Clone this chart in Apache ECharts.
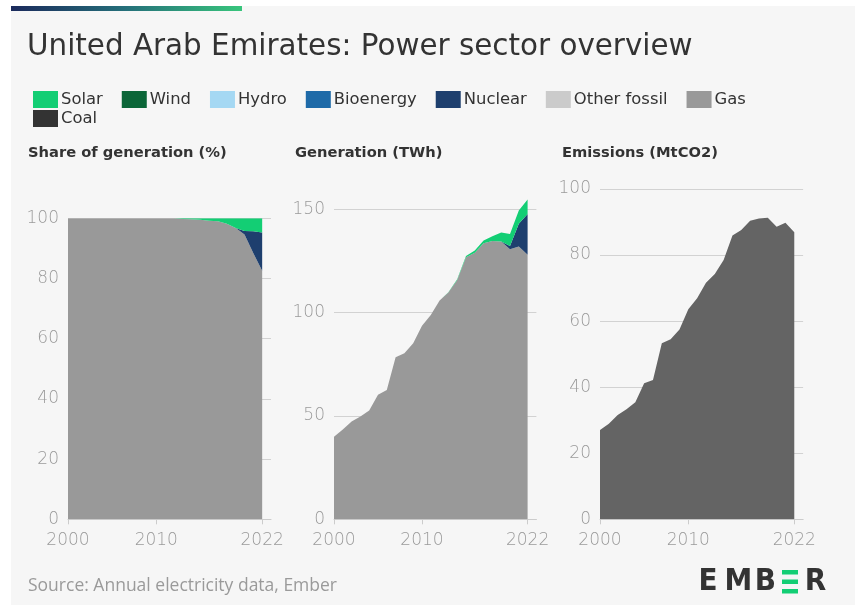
<!DOCTYPE html>
<html>
<head>
<meta charset="utf-8">
<script src="https://cdn.jsdelivr.net/npm/echarts@6/dist/echarts.min.js"></script>
<style>
  html, body { margin: 0; padding: 0; background: #fff; }
  #main { width: 855px; height: 605px; }
</style>
</head>
<body>
<div id="main"></div>
<script>
// years on the x axis (the axis runs on to 2023 so the gridlines overhang a little)
const years = ['2000', '2001', '2002', '2003', '2004', '2005', '2006', '2007', '2008', '2009', '2010', '2011',
  '2012', '2013', '2014', '2015', '2016', '2017', '2018', '2019', '2020', '2021', '2022'];
const axisYears = years.concat(['2023']);
const yearTicks = ['2000', '2010', '2022'];

// share of generation (%)
const shareGas = [100, 100, 100, 100, 100, 100, 100, 100, 100, 100, 100, 100,
  100, 99.8, 99.7, 99.5, 99.2, 99.0, 98.2, 96.8, 94.6, 88.4, 82.6];
const shareNuclear = [0, 0, 0, 0, 0, 0, 0, 0, 0, 0, 0, 0,
  0, 0, 0, 0, 0, 0, 0, 0, 1.2, 7.3, 12.7];
const shareSolar = [0, 0, 0, 0, 0, 0, 0, 0, 0, 0, 0, 0,
  0, 0.2, 0.3, 0.5, 0.8, 1.0, 1.8, 3.2, 4.2, 4.3, 4.7];

// generation (TWh)
const genGas = [40.0, 43.5, 47.3, 49.7, 52.6, 60.2, 62.6, 78.4, 80.3, 85.2, 93.6, 98.9,
  105.8, 109.7, 115.8, 126.8, 129.0, 133.5, 134.6, 134.4, 130.6, 132.0, 128.0];
const genNuclear = [0, 0, 0, 0, 0, 0, 0, 0, 0, 0, 0, 0,
  0, 0, 0, 0, 0, 0, 0, 0, 1.6, 11.0, 19.7];
const genSolar = [0, 0, 0, 0, 0, 0, 0, 0, 0, 0, 0, 0,
  0, 0.2, 0.3, 0.6, 1.0, 1.4, 2.4, 4.4, 5.8, 6.4, 7.0];

// emissions (MtCO2)
const emissions = [27.0, 28.9, 31.6, 33.3, 35.4, 41.2, 42.2, 53.3, 54.5, 57.5, 63.6, 66.9,
  71.6, 74.3, 78.5, 85.9, 87.6, 90.4, 91.1, 91.3, 88.6, 89.8, 86.9];

const sources = ['Solar', 'Wind', 'Hydro', 'Bioenergy', 'Nuclear', 'Other fossil', 'Gas', 'Coal'];
const colors = {
  'Solar': '#13ce74', 'Wind': '#0b6638', 'Hydro': '#a5d8f3', 'Bioenergy': '#1e6aa8',
  'Nuclear': '#1e3f6e', 'Other fossil': '#cbcbcb', 'Gas': '#999999', 'Coal': '#333333'
};

const font = '"DejaVu Sans", "Open Sans", sans-serif';
const narrow = '"Liberation Sans Narrow", "Open Sans", sans-serif';
const logoFont = '"DejaVu Sans Condensed", "DejaVu Sans", sans-serif';
const showYear = (i, v) => yearTicks.indexOf(v) >= 0;

function area(name, vals, idx, stack, color) {
  const c = color || colors[name];
  return {
    name: name,
    type: 'line',
    xAxisIndex: idx,
    yAxisIndex: idx,
    stack: stack,
    data: vals || [],
    symbol: 'none',
    lineStyle: { width: 0 },
    areaStyle: { color: c, opacity: 1 },
    itemStyle: { color: c },
    emphasis: { disabled: true },
    silent: true
  };
}

function xAx(idx) {
  return {
    gridIndex: idx,
    type: 'category',
    data: axisYears,
    boundaryGap: false,
    axisLine: { show: true, lineStyle: { color: '#cccccc' } },
    axisTick: { show: true, interval: showYear, length: 5, lineStyle: { color: '#cccccc' } },
    axisLabel: { interval: showYear, color: '#9a9a9a', fontSize: 17, fontWeight: 200, fontFamily: font, margin: 13 },
    splitLine: { show: false }
  };
}

function yAx(idx, max, interval) {
  const even = max % interval === 0;
  return {
    gridIndex: idx,
    type: 'value',
    min: 0,
    max: max,
    interval: interval,
    axisLine: { show: false },
    axisTick: { show: false },
    axisLabel: { color: '#9a9a9a', fontSize: 17, fontWeight: 200, fontFamily: font, margin: 9, showMaxLabel: even },
    splitLine: { show: true, showMaxLine: even, lineStyle: { color: '#d2d2d2' } }
  };
}

const series = [
  area('Gas', shareGas, 0, 'share'),
  area('Nuclear', shareNuclear, 0, 'share'),
  area('Solar', shareSolar, 0, 'share'),
  area('Gas', genGas, 1, 'gen'),
  area('Nuclear', genNuclear, 1, 'gen'),
  area('Solar', genSolar, 1, 'gen'),
  area('Wind', null, 1, 'gen'),
  area('Hydro', null, 1, 'gen'),
  area('Bioenergy', null, 1, 'gen'),
  area('Other fossil', null, 1, 'gen'),
  area('Coal', null, 1, 'gen'),
  area('Emissions', emissions, 2, null, '#646464')
];

const legendBase = {
  orient: 'horizontal',
  left: 28,
  itemWidth: 25,
  itemHeight: 17,
  itemGap: 19,
  icon: 'rect',
  selectedMode: false,
  textStyle: { fontSize: 16.4, color: '#333333', fontFamily: font, padding: [0, 0, 0, -2] }
};

const chart = echarts.init(document.getElementById('main'));
chart.setOption({
  backgroundColor: '#ffffff',
  animation: false,
  legend: [
    Object.assign({}, legendBase, { top: 86, data: sources.slice(0, 7) }),
    Object.assign({}, legendBase, { top: 105, data: ['Coal'] })
  ],
  grid: [
    { left: 68, top: 218.3, width: 203, height: 301 },
    { left: 334, top: 188.6, width: 202.4, height: 330.7 },
    { left: 600, top: 189, width: 203.1, height: 330.3 }
  ],
  xAxis: [xAx(0), xAx(1), xAx(2)],
  yAxis: [yAx(0, 100, 20), yAx(1, 160, 50), yAx(2, 100, 20)],
  series: series,
  graphic: [
    { type: 'rect', z: -10, shape: { x: 11, y: 6, width: 844, height: 599 }, style: { fill: '#f6f6f6' } },
    {
      type: 'rect', shape: { x: 11, y: 6, width: 231, height: 5 },
      style: {
        fill: new echarts.graphic.LinearGradient(0, 0, 1, 0, [
          { offset: 0, color: '#1b2a5c' }, { offset: 0.5, color: '#25707a' }, { offset: 1, color: '#38c57c' }
        ])
      }
    },
    {
      type: 'text', left: 27, top: 33,
      style: { text: 'United Arab Emirates: Power sector overview', fill: '#333333', font: '29.4px ' + font }
    },
    { type: 'text', left: 28, top: 146, style: { text: 'Share of generation (%)', fill: '#333333', font: 'bold 14.7px ' + font } },
    { type: 'text', left: 295, top: 146, style: { text: 'Generation (TWh)', fill: '#333333', font: 'bold 14.7px ' + font } },
    { type: 'text', left: 562, top: 146, style: { text: 'Emissions (MtCO2)', fill: '#333333', font: 'bold 14.7px ' + font } },
    { type: 'text', left: 28, top: 577, style: { text: 'Source: Annual electricity data, Ember', fill: '#9a9a9a', font: '17.5px ' + narrow } },
    { type: 'text', x: 708, y: 582, style: { text: 'E', align: 'center', verticalAlign: 'middle', fill: '#333333', font: 'bold 31px ' + logoFont } },
    { type: 'text', x: 738.5, y: 582, style: { text: 'M', align: 'center', verticalAlign: 'middle', fill: '#333333', font: 'bold 31px ' + logoFont } },
    { type: 'text', x: 765.5, y: 582, style: { text: 'B', align: 'center', verticalAlign: 'middle', fill: '#333333', font: 'bold 31px ' + logoFont } },
    { type: 'text', x: 815.5, y: 582, style: { text: 'R', align: 'center', verticalAlign: 'middle', fill: '#333333', font: 'bold 31px ' + logoFont } },
    { type: 'rect', shape: { x: 782, y: 570, width: 16, height: 4.5 }, style: { fill: '#13ce74' } },
    { type: 'rect', shape: { x: 782, y: 579.5, width: 16, height: 4.5 }, style: { fill: '#13ce74' } },
    { type: 'rect', shape: { x: 782, y: 589, width: 16, height: 4.5 }, style: { fill: '#13ce74' } }
  ]
});
</script>
</body>
</html>
